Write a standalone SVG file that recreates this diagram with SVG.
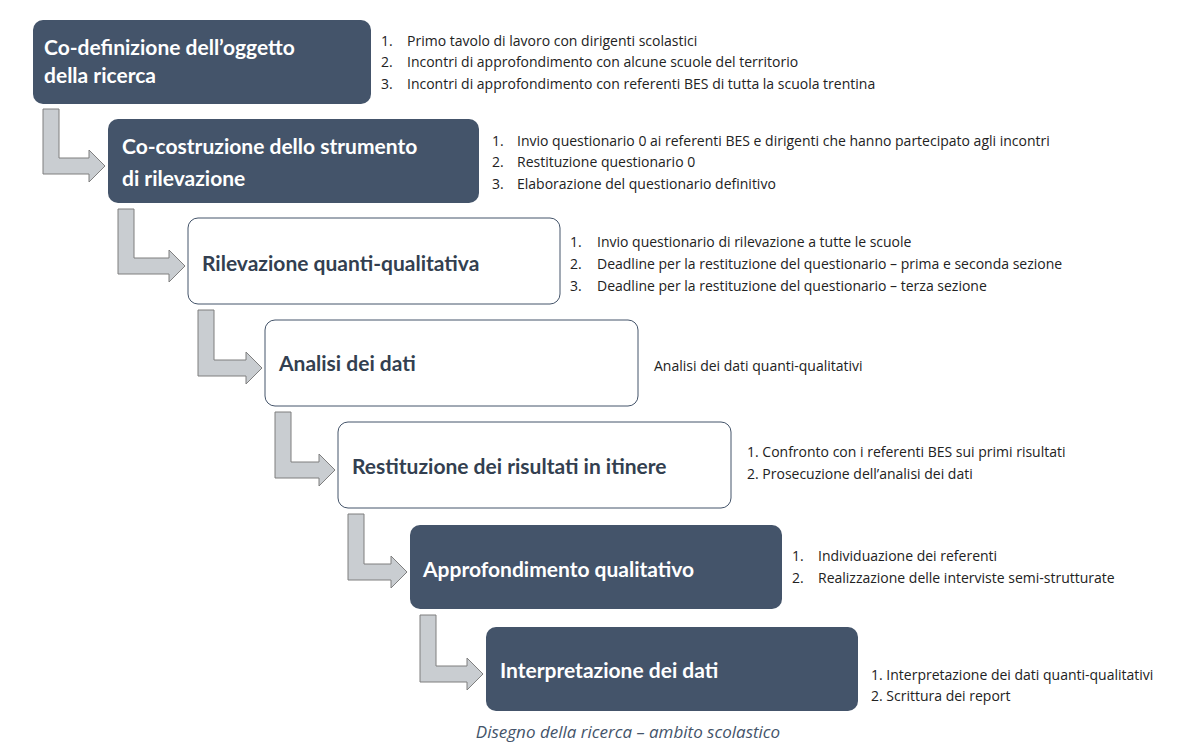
<svg xmlns="http://www.w3.org/2000/svg" width="1203" height="754" viewBox="0 0 1203 754">
<style>
.d{fill:#44546a}
.w{fill:#fff;stroke:#44546a;stroke-width:1}
.t{font-family:Lato,"Open Sans",sans-serif;font-weight:bold;font-size:21px}
.tw{fill:#fff}
.tk{fill:#333f50}
.l{font-family:"Open Sans","Liberation Sans",sans-serif;font-size:14px;fill:#222}
.a{fill:#c9cdd1;stroke:#7f7f7f;stroke-width:1}
</style>
<rect width="1203" height="754" fill="#fff"/>
<g id="connectors">
<path class="a" d="M43 109H59V158H89V150L105 166L89 182V174H43Z"/>
<path class="a" d="M118 209H134V258H169V250L185 266L169 282V274H118Z"/>
<path class="a" d="M198 310H214V360H246V352L262 368L246 384V376H198Z"/>
<path class="a" d="M275 412H291V462H319V454L335 470L319 486V478H275Z"/>
<path class="a" d="M348 514H364V564H391V556L407 572L391 588V580H348Z"/>
<path class="a" d="M420 615H436V666H467V658L483 674L467 690V682H420Z"/>
</g>
<g id="n1"><rect class="d" x="33" y="20" width="338" height="84" rx="10"/>
<text class="t tw" x="44" y="55">Co-definizione dell’oggetto</text><text class="t tw" x="44" y="83">della ricerca</text>
<text class="l"><tspan x="381" y="46">1.</tspan><tspan x="407" y="46">Primo tavolo di lavoro con dirigenti scolastici</tspan><tspan x="381" y="67">2.</tspan><tspan x="407" y="67">Incontri di approfondimento con alcune scuole del territorio</tspan><tspan x="381" y="89">3.</tspan><tspan x="407" y="89">Incontri di approfondimento con referenti BES di tutta la scuola trentina</tspan></text></g>
<g id="n2"><rect class="d" x="108" y="119" width="371" height="84" rx="10"/>
<text class="t tw" x="122" y="154">Co-costruzione dello strumento</text><text class="t tw" x="122" y="186">di rilevazione</text>
<text class="l"><tspan x="492" y="146">1.</tspan><tspan x="517" y="146">Invio questionario 0 ai referenti BES e dirigenti che hanno partecipato agli incontri</tspan><tspan x="492" y="167">2.</tspan><tspan x="517" y="167">Restituzione questionario 0</tspan><tspan x="492" y="189">3.</tspan><tspan x="517" y="189">Elaborazione del questionario definitivo</tspan></text></g>
<g id="n3"><rect class="w" x="188" y="218" width="372" height="86" rx="10"/>
<text class="t tk" x="202" y="271">Rilevazione quanti-qualitativa</text>
<text class="l"><tspan x="570" y="247">1.</tspan><tspan x="597" y="247">Invio questionario di rilevazione a tutte le scuole</tspan><tspan x="570" y="269">2.</tspan><tspan x="597" y="269">Deadline per la restituzione del questionario – prima e seconda sezione</tspan><tspan x="570" y="291">3.</tspan><tspan x="597" y="291">Deadline per la restituzione del questionario – terza sezione</tspan></text></g>
<g id="n4"><rect class="w" x="265" y="320" width="373" height="86" rx="10"/>
<text class="t tk" x="279" y="371">Analisi dei dati</text>
<text class="l" x="654" y="371">Analisi dei dati quanti-qualitativi</text></g>
<g id="n5"><rect class="w" x="338" y="422" width="393" height="86" rx="10"/>
<text class="t tk" x="352" y="474">Restituzione dei risultati in itinere</text>
<text class="l"><tspan x="747" y="457">1. Confronto con i referenti BES sui primi risultati</tspan><tspan x="747" y="479">2. Prosecuzione dell’analisi dei dati</tspan></text></g>
<g id="n6"><rect class="d" x="410" y="525" width="372" height="84" rx="10"/>
<text class="t tw" x="423" y="577">Approfondimento qualitativo</text>
<text class="l"><tspan x="792" y="561">1.</tspan><tspan x="818" y="561">Individuazione dei referenti</tspan><tspan x="792" y="583">2.</tspan><tspan x="818" y="583">Realizzazione delle interviste semi-strutturate</tspan></text></g>
<g id="n7"><rect class="d" x="486" y="627" width="372" height="84" rx="10"/>
<text class="t tw" x="500" y="678">Interpretazione dei dati</text>
<text class="l"><tspan x="871" y="680">1. Interpretazione dei dati quanti-qualitativi</tspan><tspan x="871" y="701">2. Scrittura dei report</tspan></text></g>
<text x="628" y="738" text-anchor="middle" font-family="'Open Sans',sans-serif" font-style="italic" font-size="17" fill="#44546a">Disegno della ricerca – ambito scolastico</text>
</svg>
